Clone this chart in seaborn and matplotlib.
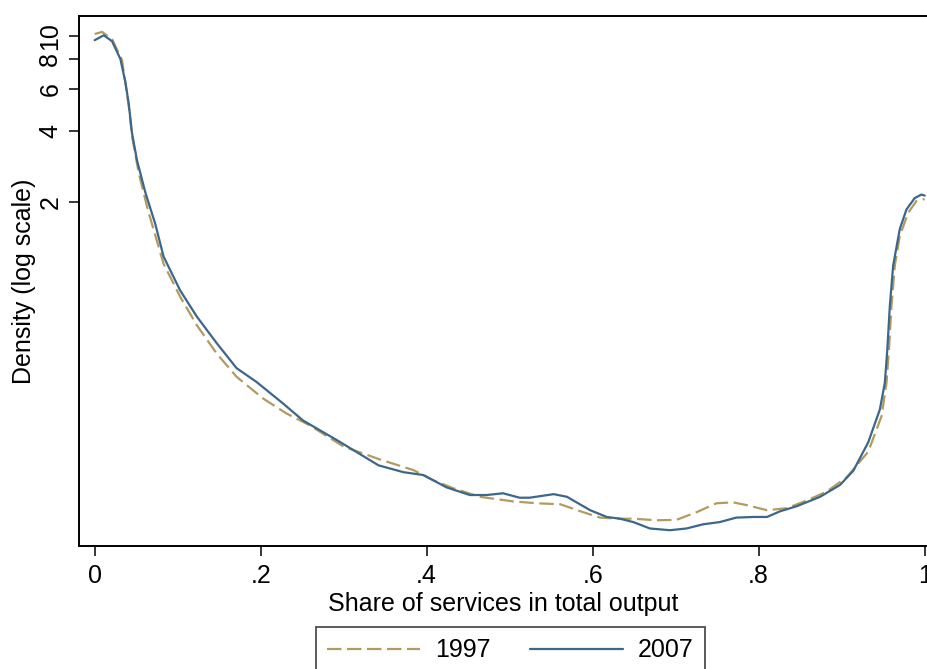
import numpy as np
import pandas as pd
import matplotlib.pyplot as plt
import seaborn as sns

sns.set_style("ticks")
plt.rcParams["font.family"] = ["Liberation Sans", "DejaVu Sans"]
plt.rcParams["text.color"] = "black"
plt.rcParams["axes.labelcolor"] = "black"
plt.rcParams["xtick.color"] = "black"
plt.rcParams["ytick.color"] = "black"

# density of the services share (log scale)
x_1997 = [0.000, 0.009, 0.021, 0.033, 0.041, 0.045, 0.053, 0.064, 0.083, 0.103,
          0.123, 0.147, 0.171, 0.203, 0.231, 0.259, 0.300, 0.344, 0.384, 0.408,
          0.432, 0.464, 0.504, 0.533, 0.561, 0.585, 0.609, 0.633, 0.649, 0.677,
          0.701, 0.725, 0.749, 0.769, 0.786, 0.810, 0.834, 0.858, 0.882, 0.906,
          0.932, 0.948, 0.954, 0.957, 0.960, 0.964, 0.970, 0.980, 0.990, 1.000]
y_1997 = [10.2, 10.4, 9.7, 7.9, 5.1, 3.8, 2.66, 1.86, 1.10, 0.80,
          0.607, 0.461, 0.368, 0.298, 0.258, 0.230, 0.187, 0.165, 0.149, 0.135,
          0.125, 0.115, 0.110, 0.108, 0.107, 0.100, 0.094, 0.093, 0.093, 0.0916,
          0.092, 0.099, 0.108, 0.109, 0.106, 0.101, 0.103, 0.111, 0.121, 0.139,
          0.178, 0.251, 0.347, 0.48, 0.73, 1.08, 1.44, 1.80, 2.02, 2.06]

x_2007 = [0.000, 0.011, 0.021, 0.031, 0.037, 0.041, 0.045, 0.051, 0.061, 0.073,
          0.083, 0.103, 0.123, 0.147, 0.171, 0.195, 0.227, 0.251, 0.292, 0.342,
          0.372, 0.396, 0.424, 0.452, 0.472, 0.492, 0.512, 0.524, 0.553, 0.569,
          0.597, 0.617, 0.633, 0.649, 0.669, 0.693, 0.713, 0.733, 0.753, 0.773,
          0.794, 0.810, 0.826, 0.846, 0.874, 0.898, 0.914, 0.932, 0.946, 0.952,
          0.955, 0.958, 0.962, 0.970, 0.978, 0.988, 0.996, 1.000]
y_2007 = [9.6, 10.07, 9.5, 8.0, 6.4, 5.2, 3.9, 3.0, 2.2, 1.62,
          1.18, 0.85, 0.66, 0.51, 0.40, 0.35, 0.284, 0.241, 0.199, 0.156,
          0.146, 0.142, 0.126, 0.117, 0.117, 0.119, 0.114, 0.114, 0.118, 0.115,
          0.101, 0.0946, 0.093, 0.090, 0.0846, 0.0832, 0.0846, 0.0881, 0.090, 0.094,
          0.0946, 0.0946, 0.100, 0.105, 0.115, 0.129, 0.148, 0.195, 0.268, 0.347,
          0.48, 0.73, 1.08, 1.54, 1.86, 2.08, 2.15, 2.13]

y_ticks = [2, 4, 6, 8, 10]
y_ticklabels = ["2", "4", "6", "8", "10"]
x_ticks = [0, 0.2, 0.4, 0.6, 0.8, 1]
x_ticklabels = ["0", ".2", ".4", ".6", ".8", "1"]

df = pd.concat([
    pd.DataFrame({"share": x_1997, "density": y_1997, "year": "1997"}),
    pd.DataFrame({"share": x_2007, "density": y_2007, "year": "2007"}),
])

gold = "#b39b5f"
blue = "#3b678a"

fig = plt.figure(figsize=(9.28, 6.69), dpi=100)
ax = fig.add_axes([0.0851, 0.1843, 1 - 0.0851, 0.9761 - 0.1843])

sns.lineplot(data=df, x="share", y="density", hue="year", style="year",
             hue_order=["1997", "2007"], style_order=["1997", "2007"],
             palette={"1997": gold, "2007": blue},
             dashes={"1997": (6.5, 2.5), "2007": ""},
             estimator=None, linewidth=1.6, ax=ax)

ax.set_yscale("log")
ax.set_xlim(-0.0189, 1.004)
ax.set_ylim(0.0716, 12.14)
ax.minorticks_off()
ax.set_yticks(y_ticks)
ax.set_yticklabels(y_ticklabels)
ax.set_xticks(x_ticks)
ax.set_xticklabels(x_ticklabels)
ax.tick_params(axis="both", labelsize=18, length=7, width=1.1, pad=6, color="black")
ax.tick_params(axis="y", labelrotation=90, pad=5)
for lab in ax.get_yticklabels():
    lab.set_va("center")

ax.set_xlabel("Share of services in total output", fontsize=18, labelpad=3)
ax.set_ylabel("Density (log scale)", fontsize=18, labelpad=2)

for side in ["left", "bottom", "top"]:
    ax.spines[side].set_color("black")
    ax.spines[side].set_linewidth(1.4)
ax.spines["right"].set_visible(False)

sns.move_legend(ax, loc="upper left", bbox_to_anchor=(316 / 928, 1 - 627 / 669),
                bbox_transform=fig.transFigure, ncol=2, title=None,
                fontsize=18, frameon=True, fancybox=False, edgecolor="#222222",
                handlelength=3.7, handletextpad=0.6, columnspacing=1.6,
                borderpad=0.45, borderaxespad=0)
ax.get_legend().get_frame().set_linewidth(1.3)

fig.savefig("out.png", dpi=100)
